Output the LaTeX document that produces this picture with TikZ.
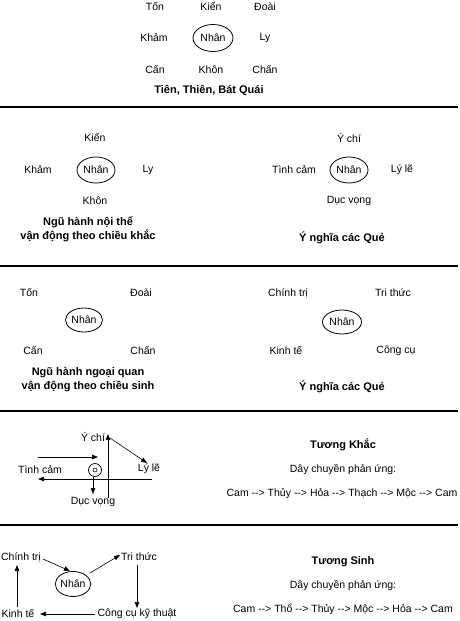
\documentclass[tikz,border=0pt]{standalone}
\usepackage{fontspec}
\setmainfont{Liberation Sans}[Ligatures=TeXOff]
\usetikzlibrary{shapes.geometric,arrows.meta}
\begin{document}
\begin{tikzpicture}[x=1pt,y=-1pt,
  lbl/.style={font=\fontsize{10.5}{12}\selectfont, inner sep=0pt, anchor=center},
  ttl/.style={font=\fontsize{11}{14}\selectfont\bfseries, inner sep=0pt, align=center},
  ell/.style={ellipse, draw, line width=0.8pt, font=\fontsize{10.5}{12}\selectfont, minimum width=38pt, minimum height=26pt, inner sep=0pt},
  sep/.style={line width=2.4pt},
  arr/.style={line width=0.6pt, -{Triangle[length=6pt,width=4.5pt]}}]
\useasboundingbox (0,0) rectangle (459,621);
% separators
\coordinate (s1a) at (0,107); \coordinate (s1b) at (458,107);
\coordinate (s2a) at (0,266); \coordinate (s2b) at (458,266);
\coordinate (s3a) at (0,411); \coordinate (s3b) at (458,411);
\coordinate (s4a) at (0,525); \coordinate (s4b) at (458,525);
\draw[sep] (s1a) -- (s1b);
\draw[sep] (s2a) -- (s2b);
\draw[sep] (s3a) -- (s3b);
\draw[sep] (s4a) -- (s4b);
% Section 1
\node[lbl] (a1) at (155,7) {Tốn};
\node[lbl] (a2) at (211,7) {Kiến};
\node[lbl] (a3) at (265,7) {Đoài};
\node[lbl] (a4) at (154,38) {Khảm};
\node[ell, minimum width=40pt, minimum height=27pt] (a5) at (213,38) {Nhân};
\node[lbl] (a6) at (265,38) {Ly};
\node[lbl] (a7) at (155,70) {Cấn};
\node[lbl] (a8) at (211,70) {Khôn};
\node[lbl] (a9) at (265,70) {Chấn};
\node[ttl] (a10) at (209,90) {Tiên, Thiên, Bát Quái};
% Section 2 left
\node[lbl] (b1) at (95,138) {Kiến};
\node[lbl] (b2) at (38,170) {Khảm};
\node[ell] (b3) at (96,170) {Nhân};
\node[lbl] (b4) at (148,170) {Ly};
\node[lbl] (b5) at (95,201) {Khôn};
\node[ttl] (b6) at (88,229) {Ngũ hành nội thể\\vận động theo chiều khắc};
% Section 2 right
\node[lbl] (c1) at (349,138) {Ý chí};
\node[lbl] (c2) at (294,170) {Tình cảm};
\node[ell] (c3) at (349,170) {Nhân};
\node[lbl] (c4) at (402,170) {Lý lẽ};
\node[lbl] (c5) at (349,201) {Dục vọng};
\node[ttl] (c6) at (342,238) {Ý nghĩa các Quẻ};
% Section 3 left
\node[lbl] (d1) at (29,293) {Tốn};
\node[lbl] (d2) at (141,293) {Đoài};
\node[ell, minimum width=37pt, minimum height=24pt] (d3) at (84,320) {Nhân};
\node[lbl] (d4) at (33,351) {Cấn};
\node[lbl] (d5) at (143,351) {Chấn};
\node[ttl] (d6) at (88,380) {Ngũ hành ngoại quan\\vận động theo chiều sinh};
% Section 3 right
\node[lbl] (e1) at (288,293) {Chính trị};
\node[lbl] (e2) at (393,293) {Tri thức};
\node[ell, minimum width=39pt, minimum height=24pt] (e3) at (342,322) {Nhân};
\node[lbl] (e4) at (286,351) {Kinh tế};
\node[lbl] (e5) at (396,351) {Công cụ};
\node[ttl] (e6) at (342,387) {Ý nghĩa các Quẻ};
% Section 4 left
\node[lbl] (f1) at (93,437) {Ý chí};
\node[lbl] (f2) at (40,470) {Tình cảm};
\node[lbl] (f3) at (149,469) {Lý lẽ};
\node[lbl] (f4) at (93,502) {Dục vọng};
\node[circle, draw, line width=0.7pt, minimum size=13pt, inner sep=0pt] (f5) at (95,470) {};
\node[circle, draw, line width=0.6pt, minimum size=4pt, inner sep=0pt] (f6) at (95,470) {};
\coordinate (g1) at (38,457); \coordinate (g2) at (98,457);
\coordinate (g3) at (152,479); \coordinate (g4) at (38,479);
\coordinate (g5) at (108,498); \coordinate (g6) at (108,434);
\coordinate (g7) at (93,477); \coordinate (g8) at (93,494);
\coordinate (g9) at (110,438); \coordinate (g10) at (147,463);
\draw[arr] (g1) -- (g2);
\draw[arr] (g3) -- (g4);
\draw[arr] (g5) -- (g6);
\draw[arr] (g7) -- (g8);
\draw[arr] (g9) -- (g10);
% Section 4 right
\node[ttl] (h1) at (343,445) {Tương Khắc};
\node[lbl] (h2) at (343,470) {Dây chuyền phản ứng:};
\node[lbl] (h3) at (342,494) {Cam --> Thủy --> Hỏa --> Thạch --> Mộc --> Cam};
% Section 5 left
\node[lbl] (i1) at (21,557) {Chính trị};
\node[lbl] (i2) at (139,557) {Tri thức};
\node[ell, minimum width=35pt, minimum height=25pt] (i3) at (73,584) {Nhân};
\node[lbl] (i4) at (18,614) {Kinh tế};
\node[lbl] (i5) at (137,614) {Công cụ kỹ thuật};
\coordinate (j1) at (43,559); \coordinate (j2) at (70,571);
\coordinate (j3) at (90,573); \coordinate (j4) at (120,555);
\coordinate (j5) at (137,565); \coordinate (j6) at (137,608);
\coordinate (j7) at (95,614); \coordinate (j8) at (40,614);
\coordinate (j9) at (17,607); \coordinate (j10) at (17,565);
\draw[arr] (j1) -- (j2);
\draw[arr] (j3) -- (j4);
\draw[arr] (j5) -- (j6);
\draw[arr] (j7) -- (j8);
\draw[arr] (j9) -- (j10);
% Section 5 right
\node[ttl] (k1) at (343,562) {Tương Sinh};
\node[lbl] (k2) at (343,586) {Dây chuyền phản ứng:};
\node[lbl] (k3) at (343,609) {Cam --> Thổ --> Thủy --> Mộc --> Hỏa --> Cam};
\end{tikzpicture}
\end{document}
